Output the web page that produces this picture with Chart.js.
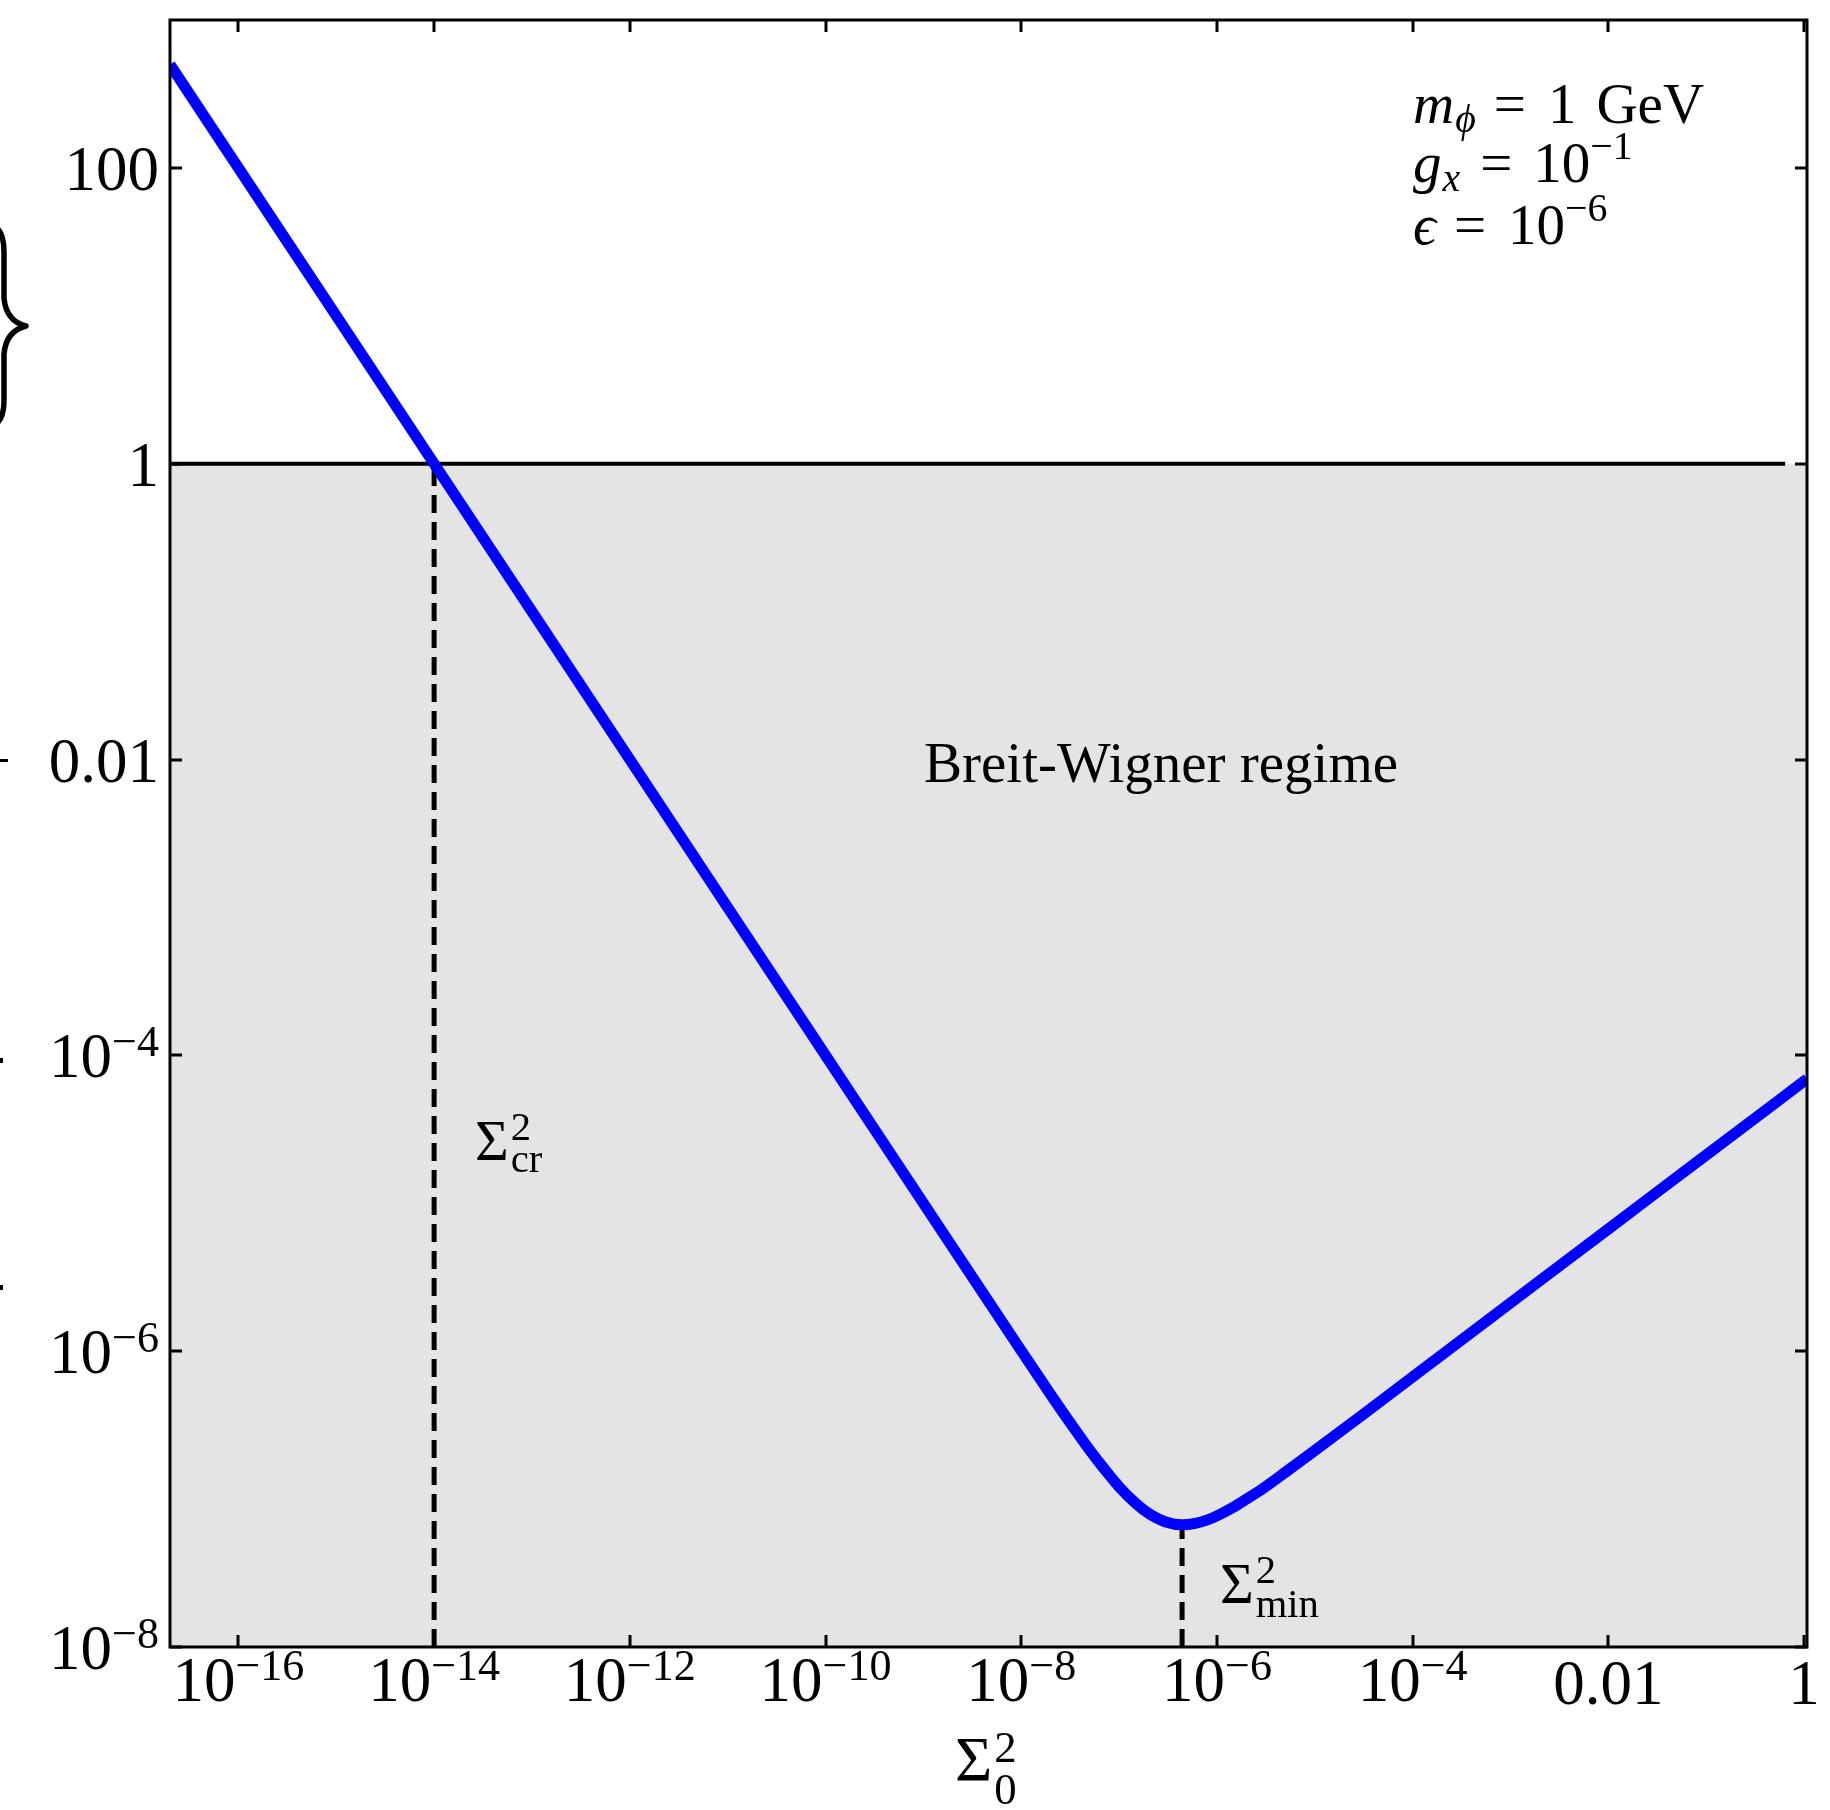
<!DOCTYPE html>
<html>
<head>
<meta charset="utf-8">
<script src="https://cdn.jsdelivr.net/npm/chart.js@4.4.1/dist/chart.umd.min.js"></script>
<style>
  html, body { margin: 0; padding: 0; background: #fff; }
  #wrap { width: 1830px; height: 1810px; }
</style>
</head>
<body>
<div id="wrap"><canvas id="bwChart" width="1830" height="1810"></canvas></div>
<script>
// Sigma_0^2 values and the ratio along the blue curve
const sigmaSq = [2e-17, 1e-16, 1e-15, 1e-14, 1e-13, 1e-12, 1e-11, 1e-10, 1e-9, 1e-8,
  2e-8, 3e-8, 5e-8, 7e-8, 1e-7, 1.5e-7, 2e-7, 3e-7, 4.4e-7, 6e-7, 8e-7, 1e-6,
  1.5e-6, 2e-6, 3e-6, 5e-6, 1e-5, 3e-5, 1e-4, 1e-3, 1e-2, 1e-1, 1.07];
const ratio = [500, 100, 10, 1, 0.1, 0.01, 1e-3, 1e-4, 1.0e-5, 1.007e-6,
  5.09e-7, 3.45e-7, 2.15e-7, 1.61e-7, 1.21e-7, 9.27e-8, 8.0e-8, 7.0e-8, 6.7e-8, 6.86e-8, 7.24e-8, 7.7e-8,
  8.87e-8, 1.0e-7, 1.19e-7, 1.52e-7, 2.13e-7, 3.67e-7, 6.7e-7, 2.12e-6, 6.7e-6, 2.12e-5, 6.93e-5];

// axis ranges and ticks
const xRange = [2e-17, 1.07];
const yRange = [1e-8, 1e3];
const xTicks = [1e-16, 1e-14, 1e-12, 1e-10, 1e-8, 1e-6, 1e-4, 1e-2, 1];
const xTickLabels = ['10^−16', '10^−14', '10^−12', '10^−10', '10^−8', '10^−6', '10^−4', '0.01', '1'];
const yTicks = [1e-8, 1e-6, 1e-4, 1e-2, 1, 100];
const yTickLabels = ['10^−8', '10^−6', '10^−4', '0.01', '1', '100'];

// reference lines
const unitLevel = 1;
const unitLineEnd = 0.64;
const sigmaCr = 1e-14;
const sigmaMin = 4.4e-7;
const ratioMin = 6.7e-8;

const FONT = '"Liberation Serif", "DejaVu Serif", serif';
const TICK = 12;
const TICK_FONT = 63;

function font(size, italic) {
  return (italic ? 'italic ' : '') + size + 'px ' + FONT;
}

// "10^−4" style label: base plus raised exponent
function drawPow(ctx, label, xPos, yBase, align, size) {
  const [b, e] = label.split('^');
  ctx.font = font(size);
  const wb = ctx.measureText(b).width;
  let we = 0;
  if (e) { ctx.font = font(size * 0.7); we = ctx.measureText(e).width; }
  const w = wb + we;
  const left = align === 'right' ? xPos - w : align === 'center' ? xPos - w / 2 : xPos;
  ctx.font = font(size);
  ctx.fillText(b, left, yBase);
  if (e) {
    ctx.font = font(size * 0.7);
    ctx.fillText(e, left + wb, yBase - size * 0.34);
  }
}

// run of pieces: [text, style]; style r / i / isub / sup, or [px, 'sp'] for a gap
function drawRun(ctx, parts, x, y, size) {
  let cx = x;
  parts.forEach(([t, s]) => {
    if (s === 'sp') { cx += t; return; }
    const small = s === 'isub' || s === 'sup';
    ctx.font = font(small ? size * 0.7 : size, s === 'i' || s === 'isub');
    const dy = s === 'isub' ? size * 0.15 : s === 'sup' ? -size * 0.4 : 0;
    ctx.fillText(t, cx, y + dy);
    cx += ctx.measureText(t).width + (s === 'i' ? 1 : 0);
  });
}

function drawSigma(ctx, x, y, size, sup, sub, supUp, subDown) {
  ctx.font = font(size);
  ctx.fillText('Σ', x, y);
  const w = ctx.measureText('Σ').width;
  ctx.font = font(size * 0.7);
  ctx.fillText(sup, x + w + 2, y - supUp);
  ctx.fillText(sub, x + w + 2, y + subDown);
}

const paramLines = [
  [['m', 'i'], ['ϕ', 'isub'], [18, 'sp'], ['=', 'r'], [22, 'sp'], ['1', 'r'], [20, 'sp'], ['GeV', 'r']],
  [['g', 'i'], ['x', 'isub'], [20, 'sp'], ['=', 'r'], [21, 'sp'], ['10', 'r'], ['−1', 'sup']],
  [['ϵ', 'i'], [17, 'sp'], ['=', 'r'], [22, 'sp'], ['10', 'r'], ['−6', 'sup']]
];
const paramBaselines = [123, 182, 244];

const framePlugin = {
  id: 'frame',
  afterDatasetsDraw(chart) {
    const { ctx, chartArea: a, scales: { x, y } } = chart;
    ctx.save();
    ctx.strokeStyle = '#000';
    ctx.fillStyle = '#000';
    ctx.lineWidth = 3;
    ctx.lineCap = 'butt';

    // inward ticks on all four sides
    ctx.beginPath();
    xTicks.forEach(v => {
      const px = Math.round(x.getPixelForValue(v));
      ctx.moveTo(px, a.bottom); ctx.lineTo(px, a.bottom - TICK);
      ctx.moveTo(px, a.top); ctx.lineTo(px, a.top + TICK);
    });
    yTicks.forEach(v => {
      const py = Math.round(y.getPixelForValue(v));
      ctx.moveTo(a.left, py); ctx.lineTo(a.left + TICK, py);
      ctx.moveTo(a.right, py); ctx.lineTo(a.right - TICK, py);
    });
    ctx.stroke();
    ctx.strokeRect(a.left, a.top, a.right - a.left, a.bottom - a.top);

    // tick labels
    ctx.textAlign = 'left';
    ctx.textBaseline = 'alphabetic';
    xTicks.forEach((v, i) => {
      const lab = xTickLabels[i];
      const base = lab.includes('^') ? a.bottom + 54 : a.bottom + 57;
      drawPow(ctx, lab, x.getPixelForValue(v), base, 'center', TICK_FONT);
    });
    yTicks.forEach((v, i) => {
      const lab = yTickLabels[i];
      drawPow(ctx, lab, a.left - 11, y.getPixelForValue(v) + 22, 'right', TICK_FONT);
    });

    // x-axis title
    drawSigma(ctx, 955, 1781, 64, '2', '0', 19, 23);

    // annotations inside the frame
    ctx.font = font(57);
    ctx.fillText('Breit-Wigner regime', 924, 782);
    paramLines.forEach((parts, i) => drawRun(ctx, parts, 1413, paramBaselines[i], 57));
    drawSigma(ctx, 475, 1160, 58, '2', 'cr', 20, 12);
    drawSigma(ctx, 1220, 1603, 58, '2', 'min', 20, 14);

    // edge of the y-axis label
    ctx.lineWidth = 5.5;
    ctx.lineJoin = 'round';
    ctx.beginPath();
    ctx.moveTo(-2, 229);
    ctx.quadraticCurveTo(4, 236, 4, 252);
    ctx.lineTo(4, 298);
    ctx.quadraticCurveTo(6, 321, 26, 326);
    ctx.quadraticCurveTo(6, 331, 4, 354);
    ctx.lineTo(4, 400);
    ctx.quadraticCurveTo(4, 416, -2, 422);
    ctx.stroke();
    ctx.fillRect(0, 759, 8, 3);
    ctx.fillRect(0, 1058, 3, 5);
    ctx.fillRect(0, 1285, 3, 5);
    ctx.restore();
  }
};

const curve = sigmaSq.map((s, i) => ({ x: s, y: ratio[i] }));

new Chart(document.getElementById('bwChart'), {
  type: 'line',
  data: {
    datasets: [
      {
        data: [{ x: xRange[0], y: unitLevel }, { x: xRange[1], y: unitLevel }],
        fill: 'start', backgroundColor: '#e4e4e4', borderWidth: 0, order: 10
      },
      {
        data: [{ x: xRange[0], y: unitLevel }, { x: unitLineEnd, y: unitLevel }],
        borderColor: '#000', borderWidth: 4, fill: false, order: 5
      },
      {
        data: [{ x: sigmaCr, y: yRange[0] }, { x: sigmaCr, y: unitLevel }],
        borderColor: '#000', borderWidth: 5, borderDash: [18, 9], fill: false, order: 4
      },
      {
        data: [{ x: sigmaMin, y: yRange[0] }, { x: sigmaMin, y: ratioMin }],
        borderColor: '#000', borderWidth: 5, borderDash: [18, 9], fill: false, order: 3
      },
      {
        data: curve,
        borderColor: '#0000ff', borderWidth: 11, fill: false,
        cubicInterpolationMode: 'monotone', borderJoinStyle: 'round', order: 0
      }
    ]
  },
  options: {
    responsive: false,
    animation: false,
    devicePixelRatio: 1,
    layout: { padding: { left: 170, top: 20, right: 23, bottom: 163 } },
    elements: { point: { radius: 0 } },
    plugins: { legend: { display: false }, tooltip: { enabled: false } },
    scales: {
      x: { type: 'logarithmic', min: xRange[0], max: xRange[1], bounds: 'data', display: false },
      y: { type: 'logarithmic', min: yRange[0], max: yRange[1], bounds: 'data', display: false }
    }
  },
  plugins: [framePlugin]
});
</script>
</body>
</html>
